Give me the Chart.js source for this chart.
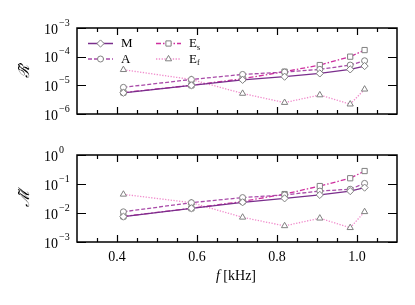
<!DOCTYPE html>
<html><head><meta charset="utf-8">
<script src="https://cdn.jsdelivr.net/npm/chart.js@4/dist/chart.umd.min.js"></script>
<style>
html,body{margin:0;padding:0;background:#fff;}
#wrap{position:relative;width:415px;height:305px;overflow:hidden;}
canvas{position:absolute;left:0;}
</style></head>
<body><div id="wrap">
<canvas id="c1" width="415" height="140" style="top:0px"></canvas>
<canvas id="c2" width="415" height="165" style="top:140px"></canvas>
</div>
<script>
// ---- data ----
const freqs = [0.416, 0.586, 0.714, 0.819, 0.907, 0.983, 1.019];
const seriesNames = ['M', 'A', 'Es', 'Ef'];
// top panel (R~)
const topM  = [5.5e-6, 1.0e-5, 1.55e-5, 2.0e-5, 2.6e-5, 3.6e-5, 4.7e-5];
const topA  = [8.5e-6, 1.6e-5, 2.4e-5, 2.9e-5, 3.6e-5, 5.1e-5, 7.2e-5];
const topEs = [5.6e-6, 1.0e-5, 1.7e-5, 3.0e-5, 5.1e-5, 1.0e-4, 1.7e-4];
const topEf = [3.5e-5, 1.6e-5, 5.2e-6, 2.5e-6, 4.6e-6, 2.2e-6, 7.3e-6];
// bottom panel (M~)
const botM  = [0.0075, 0.0145, 0.0234, 0.032, 0.042, 0.057, 0.075];
const botA  = [0.011, 0.0227, 0.034, 0.042, 0.057, 0.066, 0.105];
const botEs = [0.0076, 0.0145, 0.025, 0.045, 0.085, 0.158, 0.28];
const botEf = [0.044, 0.0227, 0.0071, 0.0036, 0.0066, 0.0031, 0.011];
// ticks
const xTickLabels = ['0.4', '0.6', '0.8', '1.0'];
const xMinorTicks = [0.35, 0.4, 0.45, 0.5, 0.55, 0.6, 0.65, 0.7, 0.75, 0.8, 0.85, 0.9, 0.95, 1.0, 1.05];
const topExps = [-6, -5, -4, -3];
const botExps = [-3, -2, -1, 0];
const xTitle = 'f [kHz]';
const topYTitle = '\u211B\u0303';
const botYTitle = '\u2133\u0303';

const styles = [
  {color:'#7a2e8c', dash:[],          point:'rectRot',  r:3.6},
  {color:'#a94ba9', dash:[4,2],       point:'circle',   r:3.0},
  {color:'#cf2f9f', dash:[5,2,1.5,2], point:'rect',     r:3.7},
  {color:'#f08ccc', dash:[1.3,1.5],   point:'triangle', r:3.6}
];

function makeDatasets(arrs){
  return arrs.map((vals,i)=>({
    label: seriesNames[i],
    data: freqs.map((f,j)=>({x:f, y:vals[j]})),
    borderColor: styles[i].color,
    borderWidth: 1.3,
    borderDash: styles[i].dash,
    pointStyle: styles[i].point,
    pointRadius: styles[i].r,
    pointBackgroundColor: '#ffffff',
    pointBorderColor: '#808080',
    pointBorderWidth: 1,
    tension: 0,
    fill: false,
    order: i
  }));
}

const SERIF = '"Liberation Serif", "DejaVu Serif", serif';

function drawSciLabel(ctx, xRight, y, exp){
  ctx.save();
  ctx.fillStyle = '#000';
  ctx.font = '14px ' + SERIF;
  ctx.textAlign = 'right';
  ctx.textBaseline = 'middle';
  ctx.fillText('10', xRight, y + 2);
  ctx.font = '10px ' + SERIF;
  ctx.textAlign = 'left';
  ctx.fillText(exp < 0 ? '\u2212' + Math.abs(exp) : String(exp), xRight + 1, y - 5);
  ctx.restore();
}

function drawMarker(ctx, style, r, x, y){
  const opts = {pointStyle: style, radius: r, rotation: 0, borderWidth: 1};
  ctx.save();
  ctx.fillStyle = '#fff';
  ctx.strokeStyle = '#808080';
  ctx.lineWidth = 1;
  ctx.setLineDash([]);
  Chart.helpers.drawPoint(ctx, opts, x, y);
  ctx.restore();
}

function framePlugin(cfg){
  return {
    id: 'frame' + cfg.id,
    afterDatasetsDraw(chart){
      const ctx = chart.ctx, a = chart.chartArea;
      const xs = chart.scales.x, ys = chart.scales.y;
      ctx.save();
      ctx.strokeStyle = '#000';
      ctx.lineWidth = 1.2;
      ctx.setLineDash([]);
      ctx.beginPath();
      xMinorTicks.forEach(v=>{
        const px = Math.round(xs.getPixelForValue(v)) + 0.5;
        const major = Math.abs(v*5 - Math.round(v*5)) < 1e-6;
        const len = major ? 7 : 4;
        ctx.moveTo(px, a.bottom); ctx.lineTo(px, a.bottom - len);
        ctx.moveTo(px, a.top); ctx.lineTo(px, a.top + len);
      });
      cfg.exps.forEach(e=>{
        const py = Math.round(ys.getPixelForValue(Math.pow(10, e))) + 0.5;
        ctx.moveTo(a.left, py); ctx.lineTo(a.left + 9, py);
        ctx.moveTo(a.right, py); ctx.lineTo(a.right - 9, py);
      });
      ctx.stroke();
      ctx.lineWidth = 1.5;
      ctx.strokeRect(a.left, a.top, a.right - a.left, a.bottom - a.top);
      ctx.restore();
      cfg.exps.forEach(e=>{
        drawSciLabel(ctx, 58, ys.getPixelForValue(Math.pow(10, e)), e);
      });
      ctx.save();
      ctx.translate(25, cfg.titleY);
      ctx.rotate(-Math.PI/2);
      ctx.font = 'italic 15px ' + SERIF;
      ctx.fillStyle = '#000';
      ctx.textAlign = 'center';
      ctx.textBaseline = 'middle';
      ctx.fillText(cfg.yTitle, 0, 0);
      ctx.restore();
      if (cfg.xlabels){
        ctx.save();
        ctx.fillStyle = '#000';
        ctx.font = '14px ' + SERIF;
        ctx.textAlign = 'center';
        ctx.textBaseline = 'middle';
        xTickLabels.forEach(t=>{
          ctx.fillText(t, xs.getPixelForValue(parseFloat(t)), a.bottom + 15);
        });
        const cx = (a.left + a.right)/2 - 1;
        const ty = a.bottom + 34;
        ctx.font = 'italic 14px ' + SERIF;
        const w1 = ctx.measureText('f ').width;
        ctx.font = '14px ' + SERIF;
        const w2 = ctx.measureText('[kHz]').width;
        const x0 = cx - (w1 + w2)/2;
        ctx.textAlign = 'left';
        ctx.font = 'italic 14px ' + SERIF;
        ctx.fillText('f', x0, ty);
        ctx.font = '14px ' + SERIF;
        ctx.fillText('[kHz]', x0 + w1, ty);
        ctx.restore();
      }
      if (cfg.legend){
        const items = [
          {i:0, x:88, y:43.5, main:'M', sub:''},
          {i:1, x:88, y:59, main:'A', sub:''},
          {i:2, x:156, y:43.5, main:'E', sub:'s'},
          {i:3, x:156, y:59, main:'E', sub:'f'}
        ];
        items.forEach(it=>{
          const s = styles[it.i];
          ctx.save();
          ctx.strokeStyle = s.color;
          ctx.lineWidth = 1.5;
          ctx.setLineDash(s.dash);
          ctx.beginPath();
          ctx.moveTo(it.x, it.y); ctx.lineTo(it.x + 25, it.y);
          ctx.stroke();
          ctx.restore();
          drawMarker(ctx, s.point, s.r, it.x + 12.5, it.y);
          ctx.save();
          ctx.fillStyle = '#000';
          ctx.font = '13px ' + SERIF;
          ctx.textAlign = 'left';
          ctx.textBaseline = 'middle';
          ctx.fillText(it.main, it.x + 33, it.y + 0.5);
          if (it.sub){
            const w = ctx.measureText(it.main).width;
            ctx.font = '8px ' + SERIF;
            ctx.fillText(it.sub, it.x + 33 + w, it.y + 4);
          }
          ctx.restore();
        });
      }
    }
  };
}

function makeChart(id, arrs, ymin, ymax, pad, cfg){
  return new Chart(document.getElementById(id), {
    type: 'line',
    data: {datasets: makeDatasets(arrs)},
    options: {
      responsive: false,
      animation: false,
      devicePixelRatio: 1,
      layout: {padding: pad},
      plugins: {legend:{display:false}, tooltip:{enabled:false}},
      scales: {
        x: {type:'linear', min:0.3, max:1.1, display:false},
        y: {type:'logarithmic', min:ymin, max:ymax, display:false}
      },
      elements: {line:{borderCapStyle:'butt'}}
    },
    plugins: [framePlugin(cfg)]
  });
}

makeChart('c1', [topM, topA, topEs, topEf], 1e-6, 1e-3,
  {left:77, right:18, top:28, bottom:26},
  {id:'top', exps: topExps, yTitle: topYTitle, titleY: 71, xlabels:false, legend:true});
makeChart('c2', [botM, botA, botEs, botEf], 1e-3, 1,
  {left:77, right:18, top:15, bottom:63},
  {id:'bot', exps: botExps, yTitle: botYTitle, titleY: 58, xlabels:true, legend:false});
</script>
</body></html>
